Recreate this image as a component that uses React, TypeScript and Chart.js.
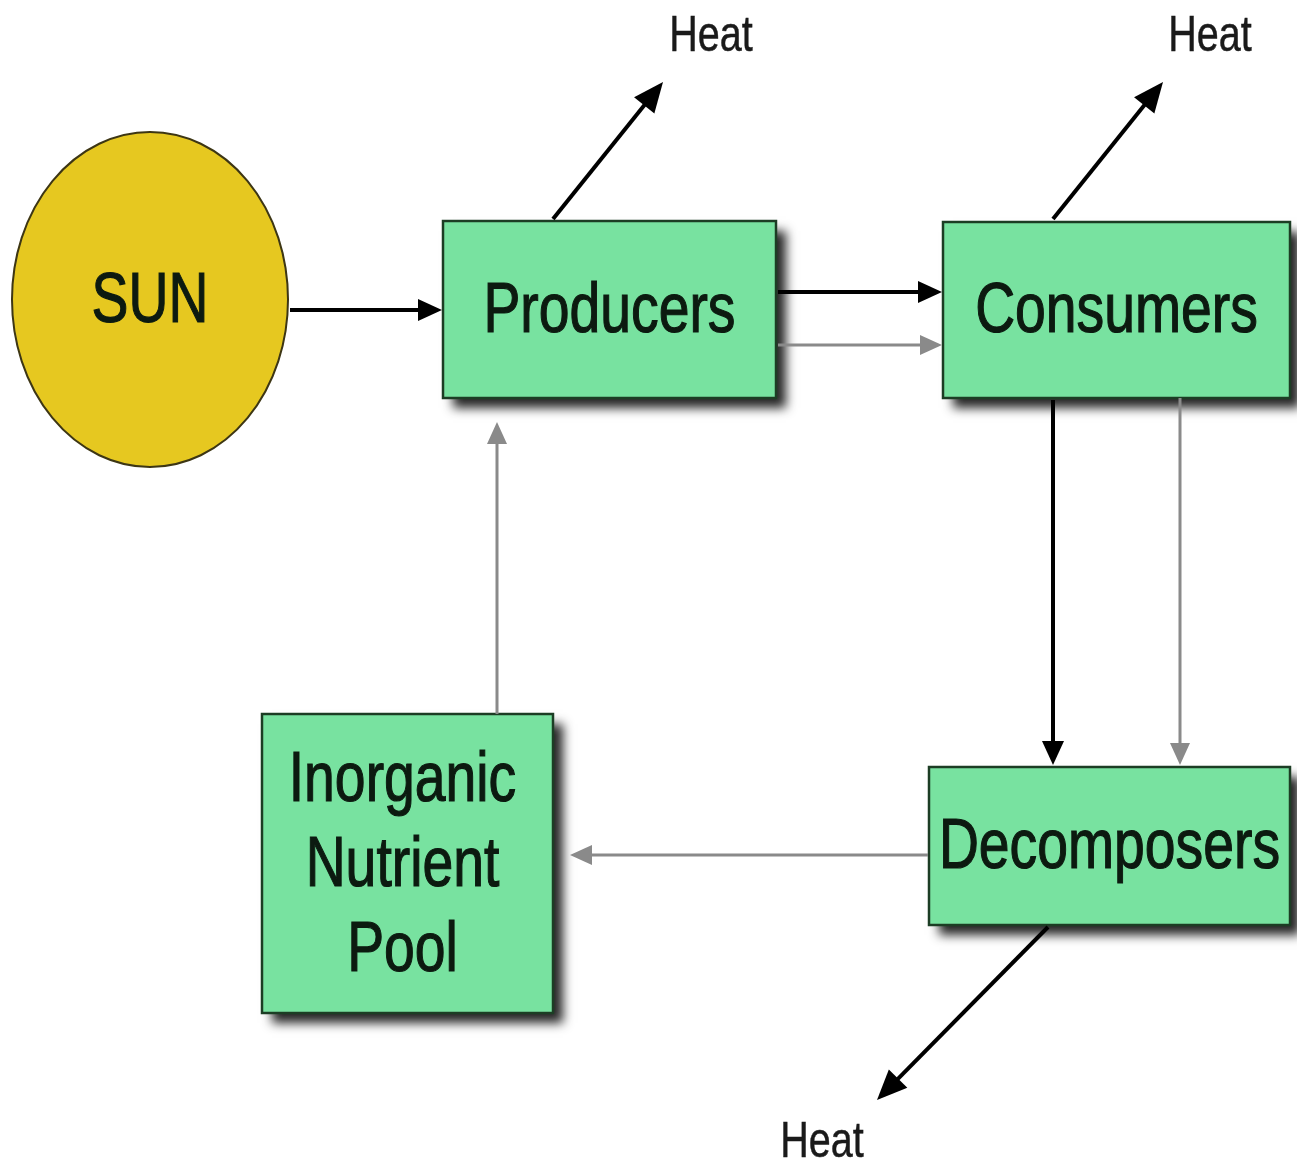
import React, { useEffect, useRef } from "react";
import { Chart, registerables } from "chart.js";

Chart.register(...registerables);

// Nodes (diagram units = page pixels)
const NODE_NAMES = ["SUN", "Producers", "Consumers", "Decomposers", "Inorganic\nNutrient\nPool"];
const NODE_SHAPE = ["ellipse", "box", "box", "box", "box"];
const NODE_LEFT = [12, 443, 943, 929, 262];
const NODE_TOP = [132, 221, 222, 767, 714];
const NODE_W = [276, 333, 347, 361, 291];
const NODE_H = [335, 177, 176, 158, 299];

// Flows (arrows)
const FLOW_X1 = [290, 778, 778, 553, 1053, 1053, 1180, 928, 497, 1048];
const FLOW_Y1 = [310, 292, 345, 219, 219, 400, 398, 855, 714, 927];
const FLOW_X2 = [442, 942, 942, 663, 1163, 1053, 1180, 570, 497, 877];
const FLOW_Y2 = [310, 292, 345, 82, 82, 765, 765, 855, 422, 1100];
const FLOW_KIND = ["energy", "energy", "nutrient", "heat", "heat", "energy", "nutrient", "nutrient", "nutrient", "heat"];

// Heat labels
const HEAT_LABELS = ["Heat", "Heat", "Heat"];
const HEAT_X = [711, 1210, 822];
const HEAT_Y = [37, 37, 1143];

const W = 1297;
const H = 1174;
const FONT = '"Liberation Sans", Arial, Helvetica, sans-serif';
const SQUEEZE = 0.79;

function drawText(ctx: CanvasRenderingContext2D, text: string, x: number, y: number, size: number, color: string, bold: number) {
  ctx.save();
  ctx.translate(x, y);
  ctx.scale(SQUEEZE, 1);
  ctx.font = `${size}px ${FONT}`;
  ctx.fillStyle = color;
  ctx.strokeStyle = color;
  ctx.lineWidth = bold;
  ctx.textAlign = "center";
  ctx.textBaseline = "middle";
  ctx.fillText(text, 0, 0);
  if (bold > 0) ctx.strokeText(text, 0, 0);
  ctx.restore();
}

function arrow(ctx: CanvasRenderingContext2D, x1: number, y1: number, x2: number, y2: number, color: string, lw: number, hl: number, hw: number) {
  const ang = Math.atan2(y2 - y1, x2 - x1);
  const bx = x2 - Math.cos(ang) * hl;
  const by = y2 - Math.sin(ang) * hl;
  ctx.save();
  ctx.strokeStyle = color;
  ctx.fillStyle = color;
  ctx.lineWidth = lw;
  ctx.beginPath();
  ctx.moveTo(x1, y1);
  ctx.lineTo(bx + Math.cos(ang) * 2, by + Math.sin(ang) * 2);
  ctx.stroke();
  ctx.beginPath();
  ctx.moveTo(x2, y2);
  ctx.lineTo(bx + Math.cos(ang + Math.PI / 2) * hw / 2, by + Math.sin(ang + Math.PI / 2) * hw / 2);
  ctx.lineTo(bx - Math.cos(ang + Math.PI / 2) * hw / 2, by - Math.sin(ang + Math.PI / 2) * hw / 2);
  ctx.closePath();
  ctx.fill();
  ctx.restore();
}

const diagramPlugin = {
  id: "diagram",
  afterDatasetsDraw(chart: any) {
    const ctx: CanvasRenderingContext2D = chart.ctx;
    const xs = chart.scales.x;
    const ys = chart.scales.y;
    const px = (v: number) => xs.getPixelForValue(v);
    const py = (v: number) => ys.getPixelForValue(v);

    // nodes
    for (let i = 0; i < NODE_NAMES.length; i++) {
      const l = px(NODE_LEFT[i]);
      const t = py(NODE_TOP[i]);
      const r = px(NODE_LEFT[i] + NODE_W[i]);
      const b = py(NODE_TOP[i] + NODE_H[i]);
      ctx.save();
      if (NODE_SHAPE[i] === "ellipse") {
        ctx.beginPath();
        ctx.ellipse((l + r) / 2, (t + b) / 2, (r - l) / 2, (b - t) / 2, 0, 0, Math.PI * 2);
        ctx.fillStyle = "#e6c820";
        ctx.fill();
        ctx.lineWidth = 2;
        ctx.strokeStyle = "#3d3614";
        ctx.stroke();
      } else {
        ctx.shadowColor = "rgba(0,0,0,0.85)";
        ctx.shadowBlur = 10;
        ctx.shadowOffsetX = 10;
        ctx.shadowOffsetY = 10;
        ctx.fillStyle = "#78e2a0";
        ctx.fillRect(l, t, r - l, b - t);
        ctx.shadowColor = "transparent";
        ctx.lineWidth = 2.5;
        ctx.strokeStyle = "#1c3d24";
        ctx.strokeRect(l, t, r - l, b - t);
      }
      ctx.restore();
      const lines = NODE_NAMES[i].split("\n");
      const cx = (l + r) / 2 - (lines.length > 1 ? 5 : 0);
      const cy = (t + b) / 2 + 3;
      const lh = 85;
      const size = lines.length > 1 ? 70 : 70;
      lines.forEach((ln, k) => {
        drawText(ctx, ln, cx, cy + (k - (lines.length - 1) / 2) * lh, size, "#0c1a10", 1.2);
      });
    }

    // flows
    for (let i = 0; i < FLOW_KIND.length; i++) {
      const k = FLOW_KIND[i];
      const color = k === "nutrient" ? "#8a8a8a" : "#000000";
      const lw = k === "nutrient" ? 3 : 4;
      const hl = k === "heat" ? 30 : k === "energy" ? 24 : 22;
      const hw = k === "heat" ? 26 : k === "energy" ? 22 : 20;
      arrow(ctx, px(FLOW_X1[i]), py(FLOW_Y1[i]), px(FLOW_X2[i]), py(FLOW_Y2[i]), color, lw, hl, hw);
    }

    // heat labels
    for (let i = 0; i < HEAT_LABELS.length; i++) {
      drawText(ctx, HEAT_LABELS[i], px(HEAT_X[i]), py(HEAT_Y[i]), 50, "#1a1a1a", 0.5);
    }
  },
};

export default function App() {
  const ref = useRef<HTMLCanvasElement | null>(null);
  useEffect(() => {
    if (!ref.current) return;
    const chart = new Chart(ref.current, {
      type: "scatter",
      data: {
        datasets: [
          {
            label: "nodes",
            data: NODE_NAMES.map((_, i) => ({ x: NODE_LEFT[i] + NODE_W[i] / 2, y: NODE_TOP[i] + NODE_H[i] / 2 })),
            pointRadius: 0,
            pointHoverRadius: 0,
          },
        ],
      },
      options: {
        animation: false,
        responsive: true,
        maintainAspectRatio: false,
        layout: { padding: 0 },
        events: [],
        plugins: { legend: { display: false }, tooltip: { enabled: false }, title: { display: false } },
        scales: {
          x: { type: "linear", min: 0, max: W, display: false },
          y: { type: "linear", min: 0, max: H, reverse: true, display: false },
        },
      },
      plugins: [diagramPlugin],
    });
    return () => chart.destroy();
  }, []);
  return (
    <div style={{ position: "fixed", left: 0, top: 0, width: W, height: H, background: "#ffffff" }}>
      <canvas ref={ref} />
    </div>
  );
}
